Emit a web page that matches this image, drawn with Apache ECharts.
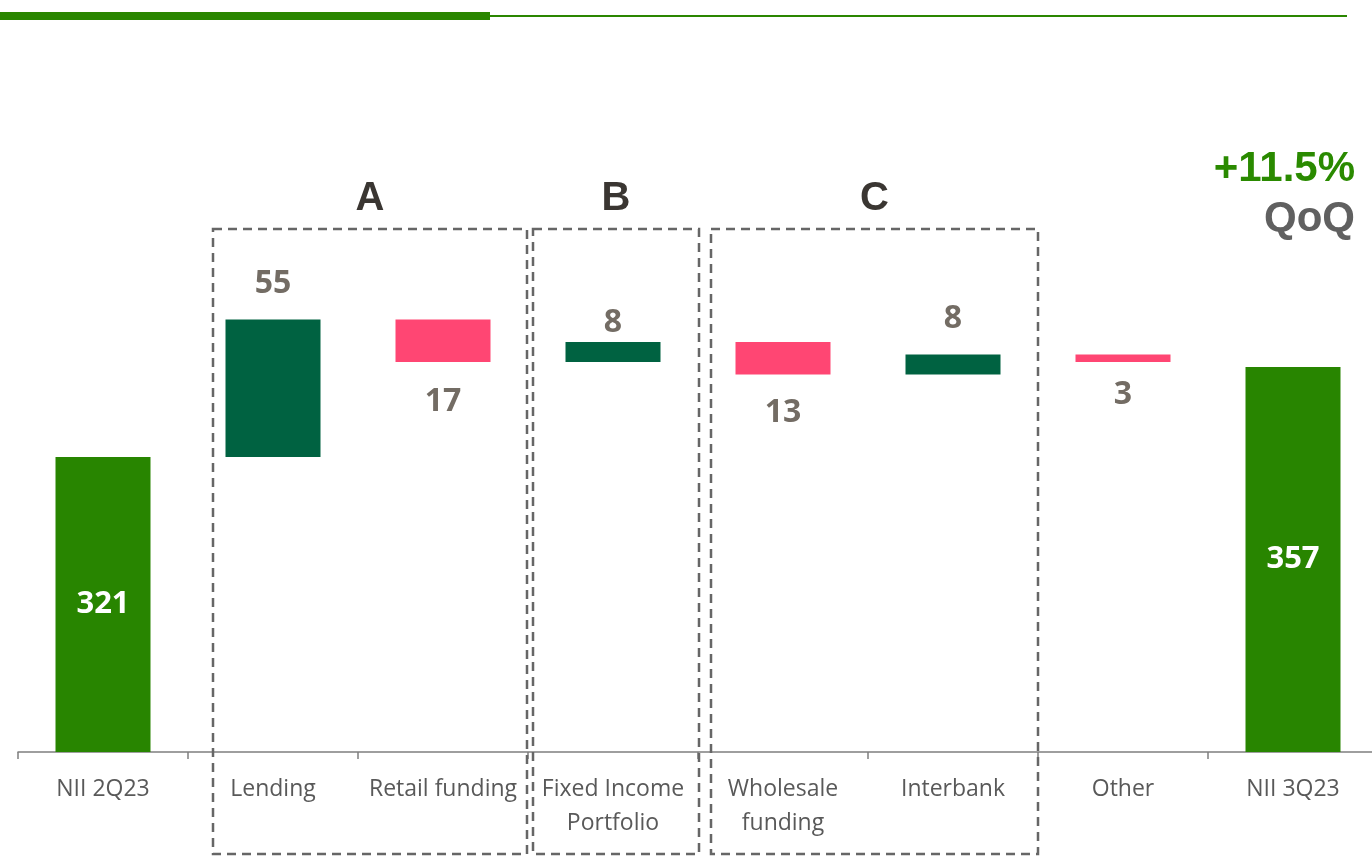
<!doctype html>
<html>
<head>
<meta charset="utf-8">
<title>NII bridge 2Q23 - 3Q23</title>
<script src="https://cdn.jsdelivr.net/npm/echarts@6/dist/echarts.min.js"></script>
<style>
    html, body{ margin:0; padding:0; background:#fff; overflow:hidden; }
    #chartBox{ width:1380px; height:856px; }
</style>
</head>
<body>
<div id="chartBox"></div>
<script type="text/javascript">
    // data
    var categories = ['NII 2Q23', 'Lending', 'Retail funding', 'Fixed Income\nPortfolio', 'Wholesale\nfunding', 'Interbank', 'Other', 'NII 3Q23'];
    var startTotal = 321;
    var endTotal = 357;
    var changes = [55, -17, 8, -13, 8, -3];   // Lending .. Other
    var groupLetters = ['A', 'B', 'C'];
    var qoqText = '+11.5%';

    // build waterfall stacks
    var baseArr = [0], totalArr = [startTotal], upArr = ['-'], downArr = ['-'];
    var level = startTotal;
    for (var i = 0; i < changes.length; i++) {
        var c = changes[i];
        if (c >= 0) {
            baseArr.push(level);
            upArr.push(c);
            downArr.push('-');
        } else {
            baseArr.push(level + c);
            upArr.push('-');
            downArr.push(-c);
        }
        totalArr.push('-');
        level += c;
    }
    baseArr.push(0); totalArr.push(endTotal); upArr.push('-'); downArr.push('-');

    // label gaps (style only)
    var upGap = [0, 20, 0, 3, 0, 20, 0, 0];
    var downGap = [0, 0, 24, 0, 22, 0, 17, 0];

    function withGap(arr, gaps){
        return arr.map(function(v, idx){
            if (v === '-') return v;
            return {value: v, label: {distance: gaps[idx]}};
        });
    }

    var valueLabel = {
        show: true,
        fontFamily: 'Open Sans',
        fontWeight: 'bold',
        fontSize: 32,
        color: '#736c64'
    };

    var myChart = echarts.init(document.getElementById('chartBox'));

    // dashed group boxes + title decorations
    var boxStyle = {fill: 'none', stroke: '#666', lineWidth: 2.5, lineDash: [9, 6]};
    var boxes = [[213, 527], [533, 699], [711, 1038]];
    var graphics = [
        {type: 'rect', shape: {x: 0, y: 12, width: 490, height: 8}, style: {fill: '#2a8600'}},
        {type: 'rect', shape: {x: 490, y: 15, width: 857, height: 2}, style: {fill: '#2a8600'}}
    ];
    boxes.forEach(function(b, idx){
        graphics.push({type: 'rect', shape: {x: b[0], y: 229, width: b[1] - b[0], height: 625}, style: boxStyle, z: 10});
        graphics.push({
            type: 'text', x: (b[0] + b[1]) / 2, y: 199,
            style: {text: groupLetters[idx], font: 'bold 40px "Liberation Sans"', fill: '#3a3632', align: 'center', verticalAlign: 'middle'}
        });
    });
    graphics.push({type: 'text', x: 1355, y: 169, style: {text: qoqText, font: 'bold 42px "Liberation Sans"', fill: '#2a8a00', align: 'right', verticalAlign: 'middle'}});
    graphics.push({type: 'text', x: 1355, y: 219, style: {text: 'QoQ', font: 'bold 42px "Liberation Sans"', fill: '#606060', align: 'right', verticalAlign: 'middle'}});

    var option = {
        animation: false,
        grid: {left: 18, top: 102, width: 1360, height: 650, containLabel: false},
        xAxis: {
            type: 'category',
            data: categories,
            axisLine: {lineStyle: {color: '#7f7f7f', width: 1.5}},
            axisTick: {show: true, length: 7, lineStyle: {color: '#7f7f7f', width: 1.5}},
            axisLabel: {
                interval: 0,
                margin: 20,
                fontFamily: 'Open Sans',
                fontSize: 23,
                lineHeight: 34,
                color: '#595959'
            }
        },
        yAxis: {type: 'value', min: 203, max: 463, show: false, splitLine: {show: false}},
        graphic: graphics,
        series: [
            {
                type: 'bar', stack: 'w', barWidth: 95,
                data: baseArr,
                itemStyle: {color: 'transparent'},
                silent: true
            },
            {
                type: 'bar', stack: 'w', barWidth: 95,
                data: totalArr,
                itemStyle: {color: '#288500'},
                label: {show: true, position: 'inside', fontFamily: 'Open Sans', fontWeight: 'bold', fontSize: 31, color: '#fff'}
            },
            {
                type: 'bar', stack: 'w', barWidth: 95,
                data: withGap(upArr, upGap),
                itemStyle: {color: '#006241'},
                label: Object.assign({position: 'top'}, valueLabel)
            },
            {
                type: 'bar', stack: 'w', barWidth: 95,
                data: withGap(downArr, downGap),
                itemStyle: {color: '#ff4673'},
                label: Object.assign({position: 'bottom'}, valueLabel)
            }
        ]
    };
    myChart.setOption(option);
</script>
</body>
</html>
